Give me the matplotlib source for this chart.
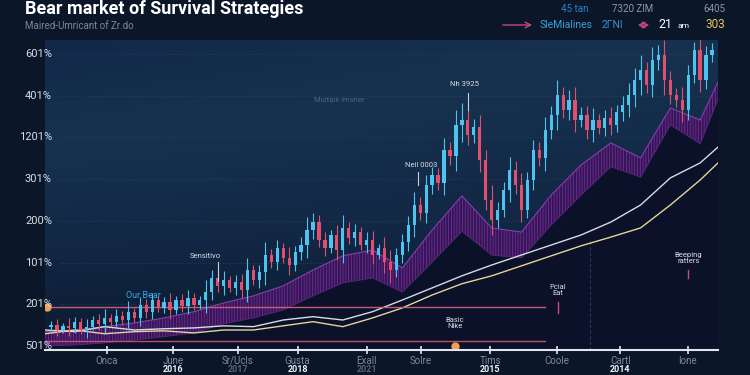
import numpy as np
import matplotlib.pyplot as plt
from matplotlib.colors import LinearSegmentedColormap
from matplotlib.transforms import blended_transform_factory

plt.rcParams['font.family'] = ['Roboto', 'DejaVu Sans']
plt.rcParams['hatch.linewidth'] = 0.5

# candle closes, in grid steps above the lowest gridline
closes = [0.50, 0.38, 0.48, 0.43, 0.58, 0.38, 0.46, 0.62, 0.53, 0.67,
          0.58, 0.72, 0.62, 0.82, 0.67, 0.98, 0.82, 1.10, 0.91, 1.06,
          0.86, 1.10, 0.96, 1.15, 0.98, 1.10, 1.29, 1.63, 1.44, 1.58,
          1.39, 1.53, 1.34, 1.82, 1.58, 1.77, 2.18, 2.01, 2.35, 2.11,
          1.94, 2.25, 2.42, 2.78, 2.97, 2.54, 2.35, 2.66, 2.30, 2.83,
          2.59, 2.73, 2.42, 2.54, 2.18, 2.35, 2.01, 1.82, 2.18, 2.49,
          2.90, 3.38, 3.20, 3.85, 4.10, 3.90, 4.70, 4.55, 5.30, 5.42,
          5.06, 5.25, 4.46, 3.50, 3.02, 3.26, 3.74, 4.22, 3.86, 3.26,
          3.98, 4.70, 4.50, 5.18, 5.54, 6.02, 5.66, 5.90, 5.42, 5.54,
          5.18, 5.42, 5.23, 5.47, 5.30, 5.61, 5.78, 6.02, 6.38, 6.62,
          6.26, 6.86, 6.98, 6.38, 6.02, 5.90, 5.66, 6.50, 7.10, 6.38,
          6.98, 7.10]
wicks = [0.10, 0.15, 0.08, 0.20, 0.12, 0.10, 0.18, 0.09, 0.14, 0.22,
         0.10, 0.16, 0.12, 0.25, 0.10, 0.20, 0.14, 0.18, 0.10, 0.12,
         0.22, 0.10, 0.15, 0.20, 0.12, 0.10, 0.30, 0.18, 0.14, 0.22,
         0.10, 0.16, 0.20, 0.28, 0.12, 0.18, 0.30, 0.15, 0.20, 0.12,
         0.25, 0.14, 0.18, 0.30, 0.22, 0.16, 0.20, 0.12, 0.25, 0.30,
         0.15, 0.20, 0.12, 0.18, 0.22, 0.10, 0.25, 0.30, 0.16, 0.20,
         0.22, 0.30, 0.18, 0.25, 0.20, 0.16, 0.28, 0.20, 0.35, 0.40,
         0.25, 0.20, 0.30, 0.25, 0.35, 0.20, 0.18, 0.30, 0.22, 0.28,
         0.20, 0.25, 0.18, 0.30, 0.22, 0.35, 0.20, 0.25, 0.30, 0.18,
         0.22, 0.28, 0.15, 0.20, 0.25, 0.18, 0.22, 0.30, 0.28, 0.35,
         0.20, 0.30, 0.25, 0.35, 0.22, 0.18, 0.30, 0.25, 0.20, 0.30,
         0.22, 0.18]

# moving average band and two trend lines, sampled on the same dates
ma_idx = [-1, 4, 9, 14, 19, 24, 29, 34, 39, 44, 49, 54, 59, 64, 69, 74,
          79, 84, 89, 94, 99, 104, 109, 112]
band_top = [0.34, 0.38, 0.46, 0.55, 0.67, 0.82, 1.03, 1.20, 1.44, 1.82,
            2.16, 2.30, 1.87, 2.78, 3.60, 2.83, 2.73, 3.62, 4.34, 4.87,
            4.51, 5.71, 5.42, 6.33]
band_bot = [0.00, 0.02, 0.07, 0.14, 0.22, 0.31, 0.53, 0.67, 0.86, 1.20,
            1.51, 1.63, 1.29, 2.01, 2.75, 2.18, 2.11, 2.90, 3.62, 4.30,
            4.05, 5.30, 4.85, 5.92]
line_white = [0.38, 0.34, 0.46, 0.38, 0.41, 0.43, 0.48, 0.46, 0.62, 0.70,
              0.62, 0.82, 1.10, 1.39, 1.68, 1.94, 2.18, 2.42, 2.66, 2.97,
              3.38, 4.03, 4.39, 4.77]
line_gold = [0.29, 0.38, 0.29, 0.34, 0.36, 0.31, 0.38, 0.38, 0.48, 0.58,
             0.46, 0.67, 0.91, 1.22, 1.49, 1.68, 1.92, 2.16, 2.40, 2.61,
             2.83, 3.38, 3.98, 4.39]

y_labels = ['501%', '201%', '101%', '200%', '301%', '1201%', '401%', '601%']
x_ticks = [9.4, 20.5, 31.4, 41.4, 53.0, 62.1, 73.8, 84.9, 95.6, 106.9]
x_labels = ['Onca', 'June', 'Sr/Ucls', 'Gusta', 'Exall', 'Solre', 'Tims', 'Coole', 'Cartl', 'Ione']
x_years = ['', '2016', '2017', '2018', '2021', '', '2015', '', '2014', '']
faint_years = ['2017', '2021']

fig = plt.figure(figsize=(7.5, 3.75), dpi=100, facecolor='#0b1729')
ax = fig.add_axes([45 / 750, 25 / 375, 673 / 750, 310 / 375])
ax.set_xlim(-1, 112)
ax.set_ylim(-0.1, 7.34)

# background glow
cmap = LinearSegmentedColormap.from_list('bg', ['#0c1a30', '#122845', '#16324f', '#12284a'])
vert = np.linspace(0, 1, 200)[:, None]
horiz = np.linspace(0, 1, 300)[None, :]
glow = vert * (1 - 0.35 * horiz)
ax.imshow(glow, extent=[-1, 112, -0.1, 7.34], origin='lower', aspect='auto',
          cmap=cmap, zorder=0)

for i in range(len(y_labels)):
    ax.axhline(i, xmin=0.022, color='#2c4262', lw=0.6, ls=(0, (1, 2)), zorder=1)

# dark area below band and hatched band
ax.fill_between(ma_idx, -0.1, band_bot, color='#0a1128', lw=0, zorder=1)
ax.fill_between(ma_idx, band_bot, band_top, facecolor='#33165a', edgecolor='#7c3090',
                hatch='||||||', lw=0, zorder=2)
ax.plot(ma_idx, band_top, color='#7e42a6', lw=0.8, zorder=2)
ax.plot(ma_idx, band_bot, color='#5a2478', lw=0.6, zorder=2)

ax.plot(ma_idx, line_white, color='#d6dbe4', lw=1.0, zorder=3)
ax.plot(ma_idx, line_gold, color='#e6d49a', lw=1.0, zorder=3)

# horizontal levels
ax.plot([-1, 83], [0.94, 0.94], color='#c75b7a', lw=1.0, zorder=3)
ax.plot([-1, 83], [0.12, 0.12], color='#b8506e', lw=1.0, zorder=3)
ax.plot([-0.66, 67.8], [0.94, 0.0], 'o', color='#f0a050', ms=5, zorder=6)
ax.plot([90.5, 90.5], [-0.1, 2.54], color='#2b3a55', lw=0.8, ls=(0, (3, 2)), zorder=1)

# candles
opens = [closes[0] - 0.05] + closes[:-1]
for i, (o, c, w) in enumerate(zip(opens, closes, wicks)):
    col = '#4fc3f0' if c >= o else '#e0506e'
    ax.vlines(i, min(o, c) - w, max(o, c) + w, color=col, lw=0.8, zorder=4)
    ax.bar(i, abs(c - o), bottom=min(o, c), width=0.55, color=col, lw=0, zorder=5)

# annotations
note = dict(color='#d8dde6', fontsize=5.5, ha='center', va='center', zorder=7)
ax.text(15.5, 1.2, 'Our Bear', color='#39a7e0', fontsize=6.5, ha='center', va='center', zorder=7)
ax.text(25.9, 2.16, 'Sensitivo', **note)
ax.plot([28, 28], [1.55, 2.02], color='#c8ced8', lw=0.8, zorder=6)
ax.text(62.1, 4.34, 'Neil 0003', **note)
ax.plot([61.6, 61.6], [3.86, 4.17], color='#c8ced8', lw=0.8, zorder=6)
ax.text(69.5, 6.28, 'Nh 3925', **note)
ax.plot([70, 70], [5.66, 6.07], color='#c8ced8', lw=0.8, zorder=6)
ax.text(48.5, 5.9, 'Multipk imsner', color='#4e6080', fontsize=5.5, ha='center', va='center', zorder=7)
ax.text(67.8, 0.55, 'Basic\nNike', linespacing=1.0, **note)
ax.text(85.1, 1.35, 'Pcial\nEat', linespacing=1.0, **note)
ax.plot([85.1, 85.1], [0.79, 1.05], color='#d04a7a', lw=1.0, zorder=6)
ax.text(107, 2.1, 'Beeping\nratters', linespacing=1.0, **note)
ax.plot([107, 107], [1.63, 1.82], color='#d04a7a', lw=1.0, zorder=6)

# axes
for s in ['top', 'right', 'left']:
    ax.spines[s].set_visible(False)
ax.spines['bottom'].set_color('#dfe6ee')
ax.spines['bottom'].set_linewidth(1.5)
ax.spines['bottom'].set_zorder(8)
ax.set_yticks([])
ax.set_xticks(x_ticks)
ax.set_xticklabels([])
ax.tick_params(axis='x', direction='inout', length=6, width=1.2, color='#dfe6ee')

ytr = blended_transform_factory(ax.transAxes, ax.transData)
for i, lab in enumerate(y_labels):
    ax.text(0.0104, i, lab, transform=ytr, ha='right', va='center',
            color='#d8dde6', fontsize=8, zorder=9)

xtr = blended_transform_factory(ax.transData, fig.transFigure)
for x, lab, yr in zip(x_ticks, x_labels, x_years):
    ax.text(x, 14 / 375, lab, transform=xtr, ha='center', va='center',
            color='#7f899b', fontsize=7, clip_on=False)
    if yr:
        c = '#5a6478' if yr in faint_years else '#f2f4f8'
        ax.text(x, 1 / 375, yr, transform=xtr, ha='center', va='bottom',
                color=c, fontsize=6.5, fontweight='bold', clip_on=False)

# header
fig.text(25 / 750, 1 - 14 / 375, 'Bear market of Survival Strategies', color='white',
         fontsize=13, fontweight='bold', va='baseline')
fig.text(25 / 750, 1 - 26 / 375, 'Maired-Umricant of Zr.do', color='#7d8799',
         fontsize=7, va='center')
fig.text(575 / 750, 1 - 9 / 375, '45 tan', color='#2f7fc4', fontsize=7, ha='center', va='center')
fig.text(633 / 750, 1 - 9 / 375, '7320 ZIM', color='#8c96a8', fontsize=7, ha='center', va='center')
fig.text(714 / 750, 1 - 9 / 375, '6405', color='#8c96a8', fontsize=7, ha='center', va='center')
fig.text(566 / 750, 1 - 25 / 375, 'SleMialines', color='#3aa0dc', fontsize=7.5, ha='center', va='center')
fig.text(612 / 750, 1 - 25 / 375, '2ΓNI', color='#3a8fd0', fontsize=7.5, ha='center', va='center')
fig.text(665 / 750, 1 - 25 / 375, '21', color='white', fontsize=9, ha='center', va='center')
fig.text(684 / 750, 1 - 26 / 375, 'am', color='white', fontsize=6, ha='center', va='center')
fig.text(715 / 750, 1 - 25 / 375, '303', color='#e6c35c', fontsize=8.5, ha='center', va='center')
ax.annotate('', xy=(535 / 750, 1 - 25 / 375), xytext=(500 / 750, 1 - 25 / 375),
            xycoords='figure fraction',
            arrowprops=dict(arrowstyle='->', color='#c8457f', lw=1.0))
ax.annotate('', xy=(652 / 750, 1 - 25 / 375), xytext=(635 / 750, 1 - 25 / 375),
            xycoords='figure fraction',
            arrowprops=dict(arrowstyle='<->', color='#c8457f', lw=1.0))

fig.savefig('out.png', dpi=100, facecolor=fig.get_facecolor())
